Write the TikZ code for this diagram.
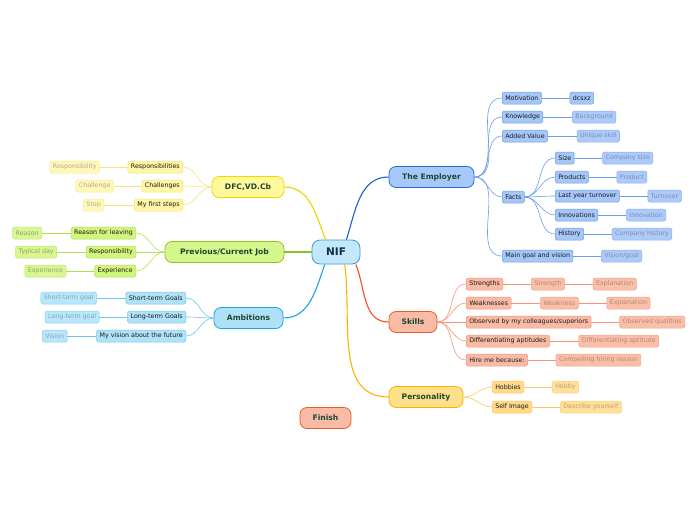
\documentclass[tikz,border=0pt]{standalone}
\usepackage{fontspec}
\setmainfont{DejaVu Sans}
\usetikzlibrary{positioning}

\definecolor{topictext}{HTML}{1E4632}
\definecolor{subtext}{HTML}{1A1A1A}
\definecolor{nifText}{HTML}{0F2A50}
\definecolor{nifTop}{HTML}{3C9AD6}
\definecolor{nifTopFill}{HTML}{C4E8FB}
% employer
\definecolor{empMain}{HTML}{1A5FD0}
\definecolor{empTop}{HTML}{2B6BD6}
\definecolor{empTopFill}{HTML}{A7C9FA}
\definecolor{empLine}{HTML}{6B9DE8}
\definecolor{empFill}{HTML}{A6C6F8}
\definecolor{empLeafLine}{HTML}{88AFEE}
\definecolor{empLeaf}{HTML}{ADCAF9}
\definecolor{empLeafText}{HTML}{7A8FB3}
% dfc
\definecolor{dfcMain}{HTML}{F0D000}
\definecolor{dfcTop}{HTML}{F2D600}
\definecolor{dfcTopFill}{HTML}{FFF99C}
\definecolor{dfcLine}{HTML}{F6E37A}
\definecolor{dfcFill}{HTML}{FFF6A6}
\definecolor{dfcLeafLine}{HTML}{F8EB90}
\definecolor{dfcLeaf}{HTML}{FFF8B8}
\definecolor{dfcLeafText}{HTML}{B0AC90}
% previous job
\definecolor{prvMain}{HTML}{8CC020}
\definecolor{prvTop}{HTML}{8CC424}
\definecolor{prvTopFill}{HTML}{D5F68A}
\definecolor{prvLine}{HTML}{B0E050}
\definecolor{prvFill}{HTML}{D2F57E}
\definecolor{prvLeafLine}{HTML}{BCE868}
\definecolor{prvLeaf}{HTML}{D8F692}
\definecolor{prvLeafText}{HTML}{8FA46C}
% ambitions
\definecolor{ambMain}{HTML}{1AA3E8}
\definecolor{ambTop}{HTML}{1EA3E3}
\definecolor{ambTopFill}{HTML}{AEE1F8}
\definecolor{ambLine}{HTML}{6CC6F0}
\definecolor{ambFill}{HTML}{B0E2F8}
\definecolor{ambLeafLine}{HTML}{88D0F2}
\definecolor{ambLeaf}{HTML}{BAE6FA}
\definecolor{ambLeafText}{HTML}{85A4B6}
% skills
\definecolor{sklMain}{HTML}{F04E1E}
\definecolor{sklTop}{HTML}{EE5A2A}
\definecolor{sklTopFill}{HTML}{F8BBA6}
\definecolor{sklLine}{HTML}{F89272}
\definecolor{sklFill}{HTML}{F8BBA6}
\definecolor{sklLeafLine}{HTML}{F8A084}
\definecolor{sklLeaf}{HTML}{F8BFAA}
\definecolor{sklLeafText}{HTML}{BC8672}
% personality
\definecolor{perMain}{HTML}{FFB300}
\definecolor{perTop}{HTML}{F6B400}
\definecolor{perTopFill}{HTML}{FFE08A}
\definecolor{perLine}{HTML}{FFC660}
\definecolor{perFill}{HTML}{FFDA8A}
\definecolor{perLeafLine}{HTML}{FFD07A}
\definecolor{perLeaf}{HTML}{FFE09A}
\definecolor{perLeafText}{HTML}{BCA070}

\begin{document}
\begin{tikzpicture}[
        x=1pt, y=1pt,
        every node/.style = {draw},
        topic/.style = {
            draw=#1Top, fill=#1TopFill,
            rounded corners=7pt,
            line width=0.8pt,
            minimum height=21pt,
            text=topictext,
            font=\bfseries\fontsize{7.6}{8}\selectfont
        },
        sub/.style = {
            draw=#1Line, fill=#1Fill,
            rounded corners=1.5pt,
            line width=0.5pt,
            minimum height=12pt,
            inner xsep=3pt, inner ysep=0pt,
            text=subtext,
            font=\fontsize{6.3}{7}\selectfont
        },
        leaf/.style = {sub=#1, draw=#1LeafLine, fill=#1Leaf, text=#1LeafText},
        branch/.style = {draw=#1Main, line width=1.1pt},
        twig/.style = {draw=#1Line, line width=0.6pt}]
    \useasboundingbox (0,0) rectangle (696,-520);

    % central and main topics
    \node[topic=nif, minimum width=48pt, minimum height=24pt, rounded corners=8pt,
        text=nifText, font=\bfseries\fontsize{10.5}{12}\selectfont] (nif) at (336,-252) {NIF};
    \node[topic=emp, minimum width=85pt] (emp) at (431.5,-177) {The Employer};
    \node[topic=dfc, minimum width=72pt] (dfc) at (248,-187) {DFC,VD.Cb};
    \node[topic=prv, minimum width=119pt] (prv) at (224.5,-252) {Previous/Current Job};
    \node[topic=amb, minimum width=69pt] (amb) at (248.5,-318) {Ambitions};
    \node[topic=skl, minimum width=48pt] (skl) at (413,-322) {Skills};
    \node[topic=per, minimum width=74pt] (per) at (426,-397) {Personality};
    \node[topic=skl, minimum width=51pt] (fin) at (325.5,-418) {Finish};

    \draw[branch=emp] (nif.50) to[out=72, in=180] (emp.west);
    \draw[branch=dfc] (nif.130) to[out=112, in=0] (dfc.east);
    \draw[branch=prv] (nif.west) -- (prv.east);
    \draw[branch=amb] (nif.228) to[out=250, in=0] (amb.east);
    \draw[branch=skl] (nif.328) to[out=-68, in=180] (skl.west);
    \draw[branch=per] (nif.305) to[out=-82, in=180] (per.west);

    % the employer
    \node[sub=emp, anchor=west] (mot) at (502,-98) {Motivation};
    \node[sub=emp, right=28pt of mot] (dcs) {dcsxz};
    \node[sub=emp, anchor=west] (kno) at (502,-117) {Knowledge};
    \node[leaf=emp, right=29pt of kno] (bkg) {Background};
    \node[sub=emp, anchor=west] (add) at (502,-136) {Added Value};
    \node[leaf=emp, right=29pt of add] (uni) {Unique skill};
    \node[sub=emp, anchor=west] (fac) at (502,-197) {Facts};
    \node[sub=emp, anchor=west] (mgv) at (502,-256) {Main goal and vision};
    \node[leaf=emp, right=28pt of mgv] (vis) {Vision/goal};

    \node[sub=emp, anchor=west] (siz) at (555,-158) {Size};
    \node[leaf=emp, right=28pt of siz] (csz) {Company size};
    \node[sub=emp, anchor=west] (prd) at (555,-177) {Products};
    \node[leaf=emp, right=28pt of prd] (pdt) {Product};
    \node[sub=emp, anchor=west] (lyt) at (555,-196) {Last year turnover};
    \node[leaf=emp, right=28pt of lyt] (tur) {Turnover};
    \node[sub=emp, anchor=west] (inn) at (555,-215) {Innovations};
    \node[leaf=emp, right=28pt of inn] (inv) {Innovation};
    \node[sub=emp, anchor=west] (his) at (555,-234) {History};
    \node[leaf=emp, right=28pt of his] (chi) {Company history};

    \draw[twig=emp] (emp.east) to[out=0, in=180] (mot.west);
    \draw[twig=emp] (emp.east) to[out=0, in=180] (kno.west);
    \draw[twig=emp] (emp.east) to[out=0, in=180] (add.west);
    \draw[twig=emp] (emp.east) to[out=0, in=180] (fac.west);
    \draw[twig=emp] (emp.east) to[out=0, in=180] (mgv.west);
    \draw[twig=emp] (fac.east) to[out=0, in=180] (siz.west);
    \draw[twig=emp] (fac.east) to[out=0, in=180] (prd.west);
    \draw[twig=emp] (fac.east) to[out=0, in=180] (lyt.west);
    \draw[twig=emp] (fac.east) to[out=0, in=180] (inn.west);
    \draw[twig=emp] (fac.east) to[out=0, in=180] (his.west);
    \draw[twig=emp] (mot) -- (dcs);
    \draw[twig=emp] (kno) -- (bkg);
    \draw[twig=emp] (add) -- (uni);
    \draw[twig=emp] (mgv) -- (vis);
    \draw[twig=emp] (siz) -- (csz);
    \draw[twig=emp] (prd) -- (pdt);
    \draw[twig=emp] (lyt) -- (tur);
    \draw[twig=emp] (inn) -- (inv);
    \draw[twig=emp] (his) -- (chi);

    % skills
    \node[sub=skl, anchor=west] (str) at (466,-284) {Strengths};
    \node[leaf=skl, right=28pt of str] (stn) {Strength};
    \node[leaf=skl, right=28pt of stn] (exa) {Explanation};
    \node[sub=skl, anchor=west] (wea) at (466,-303) {Weaknesses};
    \node[leaf=skl, right=29pt of wea] (wkn) {Weakness};
    \node[leaf=skl, right=28pt of wkn] (exb) {Explanation};
    \node[sub=skl, anchor=west] (obs) at (466,-322) {Observed by my colleagues/superiors};
    \node[leaf=skl, right=28pt of obs] (obq) {Observed qualities};
    \node[sub=skl, anchor=west] (dif) at (466,-341) {Differentiating aptitudes};
    \node[leaf=skl, right=29pt of dif] (dfa) {Differentiating aptitude};
    \node[sub=skl, anchor=west] (hir) at (466,-360) {Hire me because:};
    \node[leaf=skl, right=28pt of hir] (chr) {Compelling hiring reason};

    \draw[twig=skl] (skl.east) to[out=0, in=180] (str.west);
    \draw[twig=skl] (skl.east) to[out=0, in=180] (wea.west);
    \draw[twig=skl] (skl.east) -- (obs.west);
    \draw[twig=skl] (skl.east) to[out=0, in=180] (dif.west);
    \draw[twig=skl] (skl.east) to[out=0, in=180] (hir.west);
    \draw[twig=skl] (str) -- (stn) (stn) -- (exa);
    \draw[twig=skl] (wea) -- (wkn) (wkn) -- (exb);
    \draw[twig=skl] (obs) -- (obq);
    \draw[twig=skl] (dif) -- (dfa);
    \draw[twig=skl] (hir) -- (chr);

    % personality
    \node[sub=per, anchor=west] (hob) at (492,-387) {Hobbies};
    \node[leaf=per, right=28pt of hob] (hby) {Hobby};
    \node[sub=per, anchor=west] (sim) at (492,-407) {Self Image};
    \node[leaf=per, right=28pt of sim] (dsc) {Describe yourself};

    \draw[twig=per] (per.east) to[out=0, in=180] (hob.west);
    \draw[twig=per] (per.east) to[out=0, in=180] (sim.west);
    \draw[twig=per] (hob) -- (hby);
    \draw[twig=per] (sim) -- (dsc);

    % dfc
    \node[sub=dfc, anchor=east] (res) at (183,-167) {Responsibilities};
    \node[leaf=dfc, left=28pt of res] (rsy) {Responsibility};
    \node[sub=dfc, anchor=east] (cha) at (183,-186) {Challenges};
    \node[leaf=dfc, left=28pt of cha] (chl) {Challenge};
    \node[sub=dfc, anchor=east] (mfs) at (183,-205) {My first steps};
    \node[leaf=dfc, left=30pt of mfs] (stp) {Step};

    \draw[twig=dfc] (dfc.west) to[out=180, in=0] (res.east);
    \draw[twig=dfc] (dfc.west) to[out=180, in=0] (cha.east);
    \draw[twig=dfc] (dfc.west) to[out=180, in=0] (mfs.east);
    \draw[twig=dfc] (res) -- (rsy);
    \draw[twig=dfc] (cha) -- (chl);
    \draw[twig=dfc] (mfs) -- (stp);

    % previous job
    \node[sub=prv, anchor=east] (rfl) at (136,-233) {Reason for leaving};
    \node[leaf=prv, left=29pt of rfl] (rsn) {Reason};
    \node[sub=prv, anchor=east] (rsp) at (136,-252) {Responsibility};
    \node[leaf=prv, left=29pt of rsp] (tdy) {Typical day};
    \node[sub=prv, anchor=east] (exp) at (136,-271) {Experience};
    \node[leaf=prv, left=28pt of exp] (xpc) {Experience};

    \draw[twig=prv] (prv.west) to[out=180, in=0] (rfl.east);
    \draw[twig=prv] (prv.west) -- (rsp.east);
    \draw[twig=prv] (prv.west) to[out=180, in=0] (exp.east);
    \draw[twig=prv] (rfl) -- (rsn);
    \draw[twig=prv] (rsp) -- (tdy);
    \draw[twig=prv] (exp) -- (xpc);

    % ambitions
    \node[sub=amb, anchor=east] (stg) at (186,-298) {Short-term Goals};
    \node[leaf=amb, left=29pt of stg] (stl) {Short-term goal};
    \node[sub=amb, anchor=east] (ltg) at (186,-317) {Long-term Goals};
    \node[leaf=amb, left=28pt of ltg] (ltl) {Long-term goal};
    \node[sub=amb, anchor=east] (mvf) at (186,-336) {My vision about the future};
    \node[leaf=amb, left=29pt of mvf] (vsn) {Vision};

    \draw[twig=amb] (amb.west) to[out=180, in=0] (stg.east);
    \draw[twig=amb] (amb.west) to[out=180, in=0] (ltg.east);
    \draw[twig=amb] (amb.west) to[out=180, in=0] (mvf.east);
    \draw[twig=amb] (stg) -- (stl);
    \draw[twig=amb] (ltg) -- (ltl);
    \draw[twig=amb] (mvf) -- (vsn);
\end{tikzpicture}
\end{document}
